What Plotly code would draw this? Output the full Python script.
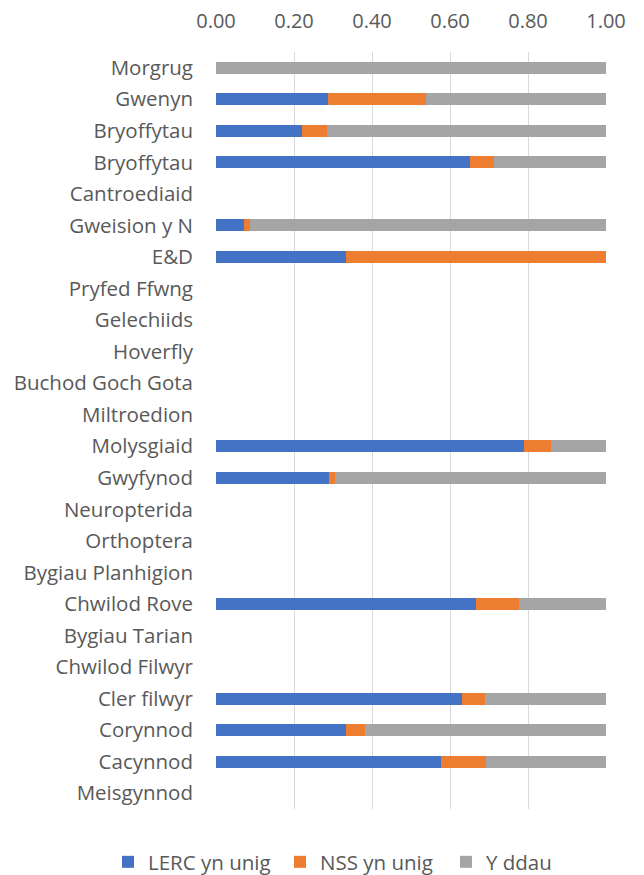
import plotly.graph_objects as go

categories = ["Morgrug", "Gwenyn", "Bryoffytau", "Bryoffytau", "Cantroediaid", "Gweision y N",
              "E&D", "Pryfed Ffwng", "Gelechiids", "Hoverfly", "Buchod Goch Gota", "Miltroedion",
              "Molysgiaid", "Gwyfynod", "Neuropterida", "Orthoptera", "Bygiau Planhigion",
              "Chwilod Rove", "Bygiau Tarian", "Chwilod Filwyr", "Cler filwyr", "Corynnod",
              "Cacynnod", "Meisgynnod"]

lerc_only = [0.0, 0.288, 0.221, 0.652, 0.0, 0.072, 0.333, 0.0, 0.0, 0.0, 0.0, 0.0,
             0.790, 0.290, 0.0, 0.0, 0.0, 0.667, 0.0, 0.0, 0.631, 0.333, 0.576, 0.0]
nss_only = [0.0, 0.251, 0.063, 0.062, 0.0, 0.016, 0.667, 0.0, 0.0, 0.0, 0.0, 0.0,
            0.070, 0.016, 0.0, 0.0, 0.0, 0.111, 0.0, 0.0, 0.059, 0.050, 0.116, 0.0]
both = [1.0, 0.461, 0.716, 0.286, 0.0, 0.912, 0.0, 0.0, 0.0, 0.0, 0.0, 0.0,
        0.140, 0.694, 0.0, 0.0, 0.0, 0.222, 0.0, 0.0, 0.310, 0.617, 0.308, 0.0]

series_names = ["LERC yn unig", "NSS yn unig", "Y ddau"]
tick_vals = [0, 0.2, 0.4, 0.6, 0.8, 1.0]
tick_text = ["0.00", "0.20", "0.40", "0.60", "0.80", "1.00"]

positions = list(range(len(categories)))
colors = ["#4472C4", "#ED7D31", "#A5A5A5"]
legend_ids = ["legend", "legend2", "legend3"]
legend_x = [100, 272, 438]

fig = go.Figure()
for name, vals, col, lid in zip(series_names, [lerc_only, nss_only, both], colors, legend_ids):
    kw = {} if lid == "legend" else {"legend": lid}
    fig.add_trace(go.Bar(y=positions, x=vals, name=name, orientation="h", showlegend=True,
                         marker=dict(color=col, line=dict(width=0)), **kw))

font_family = "Open Sans"
legend_common = dict(orientation="h", xanchor="left", xref="container",
                     y=21 / 875, yanchor="middle", yref="container", itemwidth=30,
                     bgcolor="rgba(0,0,0,0)", visible=True,
                     font=dict(size=20.5, color="#595959"))
layout_legends = {lid: dict(x=lx / 644, **legend_common) for lid, lx in zip(legend_ids, legend_x)}

fig.update_layout(
    barmode="stack",
    bargap=0.62,
    showlegend=True,
    width=644, height=875,
    margin=dict(l=208, r=46, t=44, b=74, autoexpand=False),
    paper_bgcolor="white", plot_bgcolor="white",
    font=dict(family=font_family, size=20, color="#595959"),
    xaxis=dict(side="top", range=[0, 1], tickvals=tick_vals, ticktext=tick_text,
               showgrid=True, gridcolor="#D9D9D9", gridwidth=1, zeroline=False,
               showline=False, ticks="", ticklabelstandoff=19,
               tickfont=dict(size=20, color="#595959")),
    yaxis=dict(tickvals=positions, ticktext=categories, autorange=False,
               range=[len(categories) - 0.5, -0.5], showgrid=False, zeroline=False,
               showline=False, ticks="", ticklabelstandoff=22,
               tickfont=dict(size=20.5, color="#595959")),
    **layout_legends,
)
fig.write_html("out.html")
